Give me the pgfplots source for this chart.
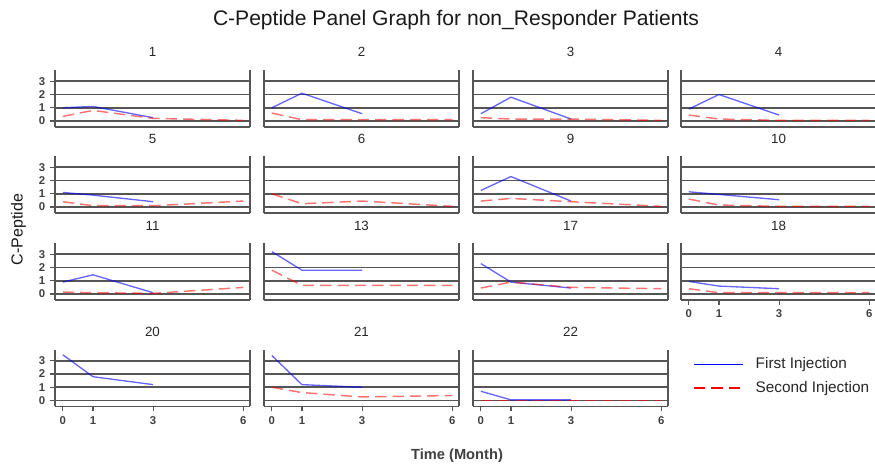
\documentclass[border=0pt]{standalone}
\usepackage{fontspec}
\setmainfont{Liberation Sans}
\usepackage{pgfplots}
\pgfplotsset{compat=1.18}
\definecolor{gridc}{HTML}{555555}
\definecolor{tickc}{HTML}{404040}
\definecolor{fi}{HTML}{0000FF}
\definecolor{si}{HTML}{FF0000}
\pgfplotsset{
 panel/.style={
  scale only axis, width=146.25pt, height=42.75pt,
  xmin=-0.26, xmax=6.22, ymin=-0.45, ymax=3.85, enlargelimits=false,
  axis x line=bottom, axis y line=box,
  axis line style={-, draw=gridc, line width=1.4pt},
  xtick={0,1,3,6}, ytick={0,1,2,3},
  xticklabels={}, yticklabels={},
  ymajorgrids, grid style={draw=gridc, line width=1.3pt},
  major tick length=3.75pt, tick align=outside, ytick pos=left,
  xtick style={draw=none}, ytick style={draw=none},
  /pgf/number format/assume math mode=true,
  tick label style={font=\fontsize{8.5}{9}\selectfont\bfseries, text=tickc},
  title style={font=\fontsize{10}{11}\selectfont, text=black!85, at={(0.5,1)}, anchor=base, yshift=3.75pt, inner sep=0pt},
  anchor=south west,
 },
 ylab/.style={yticklabels={0,1,2,3}, ytick style={draw=gridc, line width=0.9pt}},
 xlab/.style={xticklabels={0,1,3,6}, xtick style={draw=gridc, line width=0.9pt}},
 fi/.style={draw=fi, line width=1pt, opacity=0.6, no marks},
 si/.style={draw=si, line width=1.1pt, opacity=0.55, dash pattern=on 8.5pt off 4.5pt, no marks},
}
\begin{document}
\begin{tikzpicture}
\useasboundingbox (0,0) rectangle (656.25pt,348pt);
% Row 1
\begin{axis}[panel, ylab, at={(41.25pt,252.75pt)}, title={1}]
\addplot[fi] coordinates {(0,1.0) (1,1.1) (3,0.25)};
\addplot[si] coordinates {(0,0.35) (1,0.8) (3,0.2) (6,0.05)};
\end{axis}
\begin{axis}[panel, at={(198pt,252.75pt)}, title={2}]
\addplot[fi] coordinates {(0,1.0) (1,2.1) (3,0.55)};
\addplot[si] coordinates {(0,0.6) (1,0.1) (3,0.1) (6,0.1)};
\end{axis}
\begin{axis}[panel, at={(354.75pt,252.75pt)}, title={3}]
\addplot[fi] coordinates {(0,0.55) (1,1.8) (3,0.15)};
\addplot[si] coordinates {(0,0.25) (1,0.15) (3,0.15) (6,0.05)};
\end{axis}
\begin{axis}[panel, at={(510.75pt,252.75pt)}, title={4}]
\addplot[fi] coordinates {(0,0.9) (1,2.0) (3,0.45)};
\addplot[si] coordinates {(0,0.45) (1,0.15) (3,0.05) (6,0.05)};
\end{axis}
% Row 2
\begin{axis}[panel, ylab, at={(41.25pt,188.25pt)}, title={5}]
\addplot[fi] coordinates {(0,1.1) (1,0.9) (3,0.4)};
\addplot[si] coordinates {(0,0.4) (1,0.1) (3,0.1) (6,0.45)};
\end{axis}
\begin{axis}[panel, at={(198pt,188.25pt)}, title={6}]
\addplot[si] coordinates {(0,1.0) (1,0.25) (3,0.45) (6,0.05)};
\end{axis}
\begin{axis}[panel, at={(354.75pt,188.25pt)}, title={9}]
\addplot[fi] coordinates {(0,1.25) (1,2.3) (3,0.45)};
\addplot[si] coordinates {(0,0.45) (1,0.65) (3,0.4) (6,0.05)};
\end{axis}
\begin{axis}[panel, at={(510.75pt,188.25pt)}, title={10}]
\addplot[fi] coordinates {(0,1.15) (1,0.95) (3,0.55)};
\addplot[si] coordinates {(0,0.6) (1,0.15) (3,0.05) (6,0.05)};
\end{axis}
% Row 3
\begin{axis}[panel, ylab, at={(41.25pt,123pt)}, title={11}]
\addplot[fi] coordinates {(0,0.9) (1,1.45) (3,0.1)};
\addplot[si] coordinates {(0,0.15) (1,0.1) (3,0.05) (6,0.5)};
\end{axis}
\begin{axis}[panel, at={(198pt,123pt)}, title={13}]
\addplot[fi] coordinates {(0,3.2) (1,1.8) (3,1.8)};
\addplot[si] coordinates {(0,1.8) (1,0.65) (3,0.65) (6,0.65)};
\end{axis}
\begin{axis}[panel, at={(354.75pt,123pt)}, title={17}]
\addplot[fi] coordinates {(0,2.3) (1,0.9) (3,0.45)};
\addplot[si] coordinates {(0,0.45) (1,0.9) (3,0.5) (6,0.4)};
\end{axis}
\begin{axis}[panel, xlab, at={(510.75pt,123pt)}, title={18}]
\addplot[fi] coordinates {(0,0.95) (1,0.6) (3,0.4)};
\addplot[si] coordinates {(0,0.4) (1,0.1) (3,0.1) (6,0.1)};
\end{axis}
% Row 4
\begin{axis}[panel, ylab, xlab, at={(41.25pt,43.125pt)}, title={20}]
\addplot[fi] coordinates {(0,3.45) (1,1.8) (3,1.2)};
\end{axis}
\begin{axis}[panel, xlab, at={(198pt,43.125pt)}, title={21}]
\addplot[fi] coordinates {(0,3.4) (1,1.2) (3,1.0)};
\addplot[si] coordinates {(0,1.0) (1,0.6) (3,0.27) (6,0.38)};
\end{axis}
\begin{axis}[panel, xlab, at={(354.75pt,43.125pt)}, title={22},
  legend style={draw=none, fill=none, inner sep=0pt, at={(1,1)}, anchor=north west,
    xshift=18.75pt, yshift=-6pt, row sep=8pt, column sep=9pt,
    font=\fontsize{11.5}{12}\selectfont, text=black!85, nodes={inner sep=0pt}},
  legend cell align=left,
  legend image code/.code={\draw[#1] (0pt,0pt) -- (36.75pt,0pt);},
  legend image post style={opacity=1}]
\addplot[fi] coordinates {(0,0.7) (1,0.05) (3,0.05)};
\addplot[si] coordinates {(0,0.02) (1,0.02) (3,0.02) (6,0.02)};
\legend{First Injection, Second Injection}
\end{axis}
\node[anchor=base, font=\fontsize{15.8}{17}\selectfont, text=black!90] at (342pt,328.5pt) {C-Peptide Panel Graph for non\_Responder Patients};
\node[anchor=base, rotate=90, font=\fontsize{12}{13}\selectfont, text=black!90] at (17pt,175.9pt) {C-Peptide};
\node[anchor=base, font=\fontsize{11}{12}\selectfont\bfseries, text=tickc] at (342.75pt,3.5pt) {Time (Month)};
\end{tikzpicture}
\end{document}
